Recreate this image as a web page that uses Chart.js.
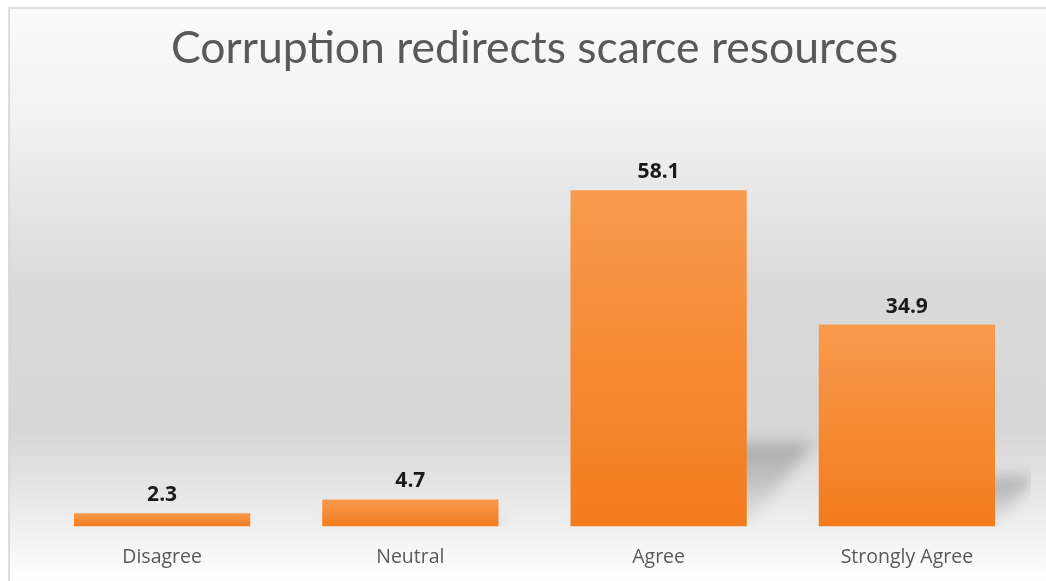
<!DOCTYPE html>
<html>
<head>
<meta charset="utf-8">
<script src="https://cdn.jsdelivr.net/npm/chart.js@4/dist/chart.umd.min.js"></script>
<style>
  html, body { margin: 0; padding: 0; background: #ffffff; }
  #wrap { width: 1046px; height: 581px; position: relative; }
</style>
</head>
<body>
<div id="wrap"><canvas id="c" width="1046" height="581"></canvas></div>
<script>
const chartTitle = 'Corruption redirects scarce resources';
const categories = ['Disagree', 'Neutral', 'Agree', 'Strongly Agree'];
const values = [2.3, 4.7, 58.1, 34.9];
const yMin = 0;
const yMax = 70;

const backgroundPlugin = {
  id: 'bgFrame',
  beforeDraw(chart) {
    const ctx = chart.ctx;
    const W = chart.width, H = chart.height;
    ctx.save();
    ctx.fillStyle = '#ffffff';
    ctx.fillRect(0, 0, W, H);
    const fx = 9, fy = 8;
    const g = ctx.createLinearGradient(0, fy, 0, H);
    g.addColorStop(0.00, '#fbfbfb');
    g.addColorStop(0.20, '#f1f1f1');
    g.addColorStop(0.50, '#d9d9d9');
    g.addColorStop(0.74, '#d7d7d7');
    g.addColorStop(0.90, '#efefef');
    g.addColorStop(1.00, '#ffffff');
    ctx.fillStyle = g;
    ctx.fillRect(fx, fy, W - fx, H - fy);
    ctx.strokeStyle = '#d4d4d4';
    ctx.lineWidth = 1.5;
    ctx.beginPath();
    ctx.moveTo(fx, H);
    ctx.lineTo(fx, fy);
    ctx.lineTo(W, fy);
    ctx.stroke();
    ctx.restore();
  }
};

const shadowPlugin = {
  id: 'barShadow',
  beforeDatasetsDraw(chart) {
    const ctx = chart.ctx;
    const area = chart.chartArea;
    const meta = chart.getDatasetMeta(0);
    ctx.save();
    ctx.beginPath();
    ctx.rect(area.left, area.top, area.right - area.left, area.bottom - area.top);
    ctx.clip();
    meta.data.forEach(bar => {
      const p = bar.getProps(['x', 'y', 'base', 'width'], true);
      const h = p.base - p.y;
      const sh = h * 0.25;
      const dx = sh * 0.8;
      if (sh < 4) return;
      const L = p.x - p.width / 2, R = p.x + p.width / 2;
      const g = ctx.createLinearGradient(0, p.base, 0, p.base - sh);
      g.addColorStop(0, 'rgba(150,150,150,0.08)');
      g.addColorStop(0.5, 'rgba(125,125,125,0.3)');
      g.addColorStop(1, 'rgba(110,110,110,0.45)');
      ctx.filter = 'blur(7px)';
      ctx.fillStyle = g;
      ctx.beginPath();
      ctx.moveTo(L, p.base);
      ctx.lineTo(R, p.base);
      ctx.lineTo(R + dx, p.base - sh);
      ctx.lineTo(L + dx, p.base - sh);
      ctx.closePath();
      ctx.fill();
    });
    ctx.restore();
  }
};

const labelPlugin = {
  id: 'valueLabels',
  afterDatasetsDraw(chart) {
    const ctx = chart.ctx;
    const meta = chart.getDatasetMeta(0);
    ctx.save();
    ctx.font = 'bold 21px "Open Sans", sans-serif';
    ctx.fillStyle = '#1a1a1a';
    ctx.textAlign = 'center';
    ctx.textBaseline = 'alphabetic';
    meta.data.forEach((bar, i) => {
      const p = bar.getProps(['x', 'y'], true);
      ctx.fillText(values[i].toFixed(1), p.x, p.y - 12);
    });
    ctx.restore();
  }
};

new Chart(document.getElementById('c'), {
  type: 'bar',
  data: {
    labels: categories,
    datasets: [{
      data: values,
      backgroundColor: (context) => {
        const chart = context.chart;
        if (!chart.chartArea || !chart.scales.y) return '#f58a33';
        const ys = chart.scales.y;
        const top = ys.getPixelForValue(context.raw);
        const base = ys.getPixelForValue(0);
        if (!isFinite(top) || !isFinite(base) || base - top < 1) return '#f58a33';
        const g = chart.ctx.createLinearGradient(0, top, 0, base);
        g.addColorStop(0, '#f89a4e');
        g.addColorStop(1, '#f37b1c');
        return g;
      },
      borderWidth: 0,
      barPercentage: 0.71,
      categoryPercentage: 1.0
    }]
  },
  options: {
    responsive: false,
    animation: false,
    devicePixelRatio: 1,
    layout: { padding: { left: 38, right: 15, top: 0, bottom: -7 } },
    plugins: {
      legend: { display: false },
      tooltip: { enabled: false },
      title: {
        display: true,
        text: chartTitle,
        color: '#595959',
        font: { family: 'Lato', size: 44.5, weight: 'normal' },
        padding: { top: 22, bottom: 46 }
      }
    },
    scales: {
      x: {
        grid: { display: false, drawTicks: false },
        border: { display: false },
        ticks: {
          color: '#595959',
          font: { family: '"Open Sans"', size: 19.5 },
          padding: 19
        }
      },
      y: {
        display: false,
        min: yMin,
        max: yMax
      }
    }
  },
  plugins: [backgroundPlugin, shadowPlugin, labelPlugin]
});
</script>
</body>
</html>
